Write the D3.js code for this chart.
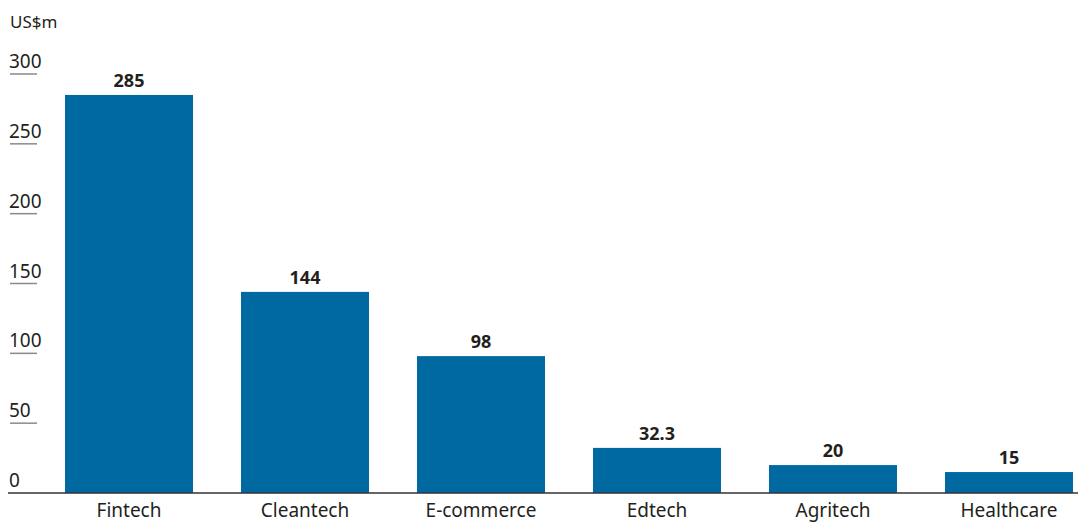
<!DOCTYPE html>
<html>
<head>
<meta charset="utf-8">
<script src="https://cdn.jsdelivr.net/npm/d3@7"></script>
<style>
  body { margin: 0; background: #fff; }
  text { font-family: "Noto Sans", "Open Sans", sans-serif; fill: #231f20; }
  .value { font-weight: bold; }
</style>
</head>
<body>
<svg id="chart"></svg>
<script>
var sectors = ["Fintech", "Cleantech", "E-commerce", "Edtech", "Agritech", "Healthcare"];
var funding = [285, 144, 98, 32.3, 20, 15];
var yTicks = [0, 50, 100, 150, 200, 250, 300];
var valueLabels = ["285", "144", "98", "32.3", "20", "15"];

var width = 1078;
var height = 522;

var svg = d3.select("#chart")
  .attr("width", width)
  .attr("height", height);

var xscale = d3.scaleBand()
  .domain(sectors)
  .range([41, 1097])
  .paddingInner(0.2727)
  .paddingOuter(0.1364);

var yscale = d3.scaleLinear()
  .domain([0, 300])
  .range([493, 74]);

// unit label
svg.append("text")
  .attr("x", 10)
  .attr("y", 28)
  .style("font-size", "17px")
  .text("US$m");

// y ticks: short line with label above it
var ticks = svg.append("g").attr("class", "y axis");
ticks.selectAll("line")
  .data(yTicks.filter(function(d){ return d > 0; }))
  .enter()
  .append("line")
  .attr("x1", 10)
  .attr("x2", 37)
  .attr("y1", function(d){ return yscale(d); })
  .attr("y2", function(d){ return yscale(d); })
  .attr("stroke", "#8a8a8a")
  .attr("stroke-width", 1.5);

ticks.selectAll("text")
  .data(yTicks)
  .enter()
  .append("text")
  .attr("x", 9)
  .attr("y", function(d){ return yscale(d) - 6; })
  .style("font-size", "19px")
  .text(function(d){ return d; });

// bars
svg.append("g")
  .selectAll("rect")
  .data(funding)
  .enter()
  .append("rect")
  .attr("x", function(d, i){ return xscale(sectors[i]); })
  .attr("y", function(d){ return yscale(d); })
  .attr("width", xscale.bandwidth())
  .attr("height", function(d){ return yscale(0) - yscale(d); })
  .attr("fill", "#0069a1");

// baseline
svg.append("line")
  .attr("x1", 8)
  .attr("x2", width)
  .attr("y1", yscale(0))
  .attr("y2", yscale(0))
  .attr("stroke", "#333")
  .attr("stroke-width", 1.5);

// value labels
svg.append("g")
  .selectAll("text")
  .data(funding)
  .enter()
  .append("text")
  .attr("class", "value")
  .attr("x", function(d, i){ return xscale(sectors[i]) + xscale.bandwidth() / 2; })
  .attr("y", function(d){ return yscale(d) - 8; })
  .attr("text-anchor", "middle")
  .style("font-size", "18px")
  .text(function(d, i){ return valueLabels[i]; });

// category labels
svg.append("g")
  .selectAll("text")
  .data(sectors)
  .enter()
  .append("text")
  .attr("x", function(d){ return xscale(d) + xscale.bandwidth() / 2; })
  .attr("y", 517)
  .attr("text-anchor", "middle")
  .style("font-size", "19px")
  .text(function(d){ return d; });
</script>
</body>
</html>
